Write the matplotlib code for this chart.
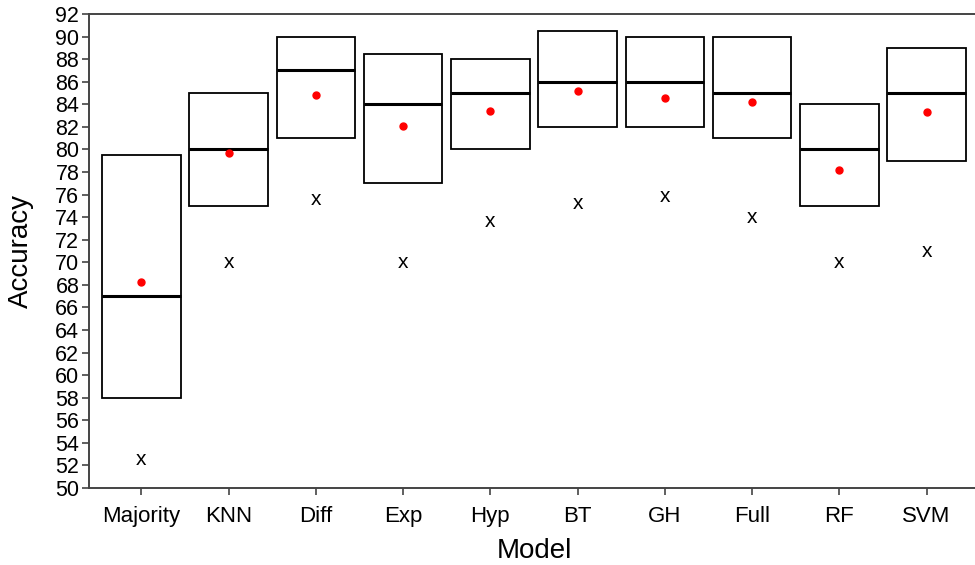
import matplotlib.pyplot as plt

# data
models = ["Majority", "KNN", "Diff", "Exp", "Hyp", "BT", "GH", "Full", "RF", "SVM"]
box_top = [79.5, 85, 90, 88.5, 88, 90.5, 90, 90, 84, 89]
box_bottom = [58, 75, 81, 77, 80, 82, 82, 81, 75, 79]
medians = [67, 80, 87, 84, 85, 86, 86, 85, 80, 85]
means = [68.25, 79.7, 84.8, 82.1, 83.4, 85.2, 84.6, 84.2, 78.2, 83.3]
minimums = [52.5, 70, 75.6, 70, 73.6, 75.2, 75.8, 74.0, 70, 71]

plt.rcParams['font.family'] = ['Liberation Sans', 'DejaVu Sans']

fig = plt.figure(figsize=(9.75, 5.65), dpi=100)
ax = fig.add_axes([89 / 975, 77 / 565, 890 / 975, 474 / 565])

xs = list(range(len(models)))
heights = [t - b for t, b in zip(box_top, box_bottom)]
ax.bar(xs, heights, bottom=box_bottom, width=0.9, fill=False,
       edgecolor='black', linewidth=1.3)
ax.hlines(medians, [x - 0.45 for x in xs], [x + 0.45 for x in xs],
          colors='black', linewidth=2.2)
ax.plot(xs, means, 'o', color='red', markersize=5, linestyle='none')
for x, v in zip(xs, minimums):
    ax.text(x, v, "x", ha='center', va='center', fontsize=15)

ax.set_xlim(-0.6, 9.6)
ax.set_ylim(50, 92)
ax.set_yticks(range(50, 93, 2))
ax.set_xticks(xs)
ax.set_xticklabels(models)
ax.tick_params(axis='y', labelsize=15.5, length=5, width=1.2, color='#444444', pad=2)
ax.tick_params(axis='x', labelsize=16, length=5, width=1.2, color='#444444', pad=8)
ax.set_ylabel("Accuracy", fontsize=20, labelpad=15)
ax.set_xlabel("Model", fontsize=20, labelpad=8)

for side in ['left', 'bottom', 'top']:
    ax.spines[side].set_color('#444444')
    ax.spines[side].set_linewidth(1.4)
ax.spines['right'].set_visible(False)

fig.savefig('out.png', dpi=100)
